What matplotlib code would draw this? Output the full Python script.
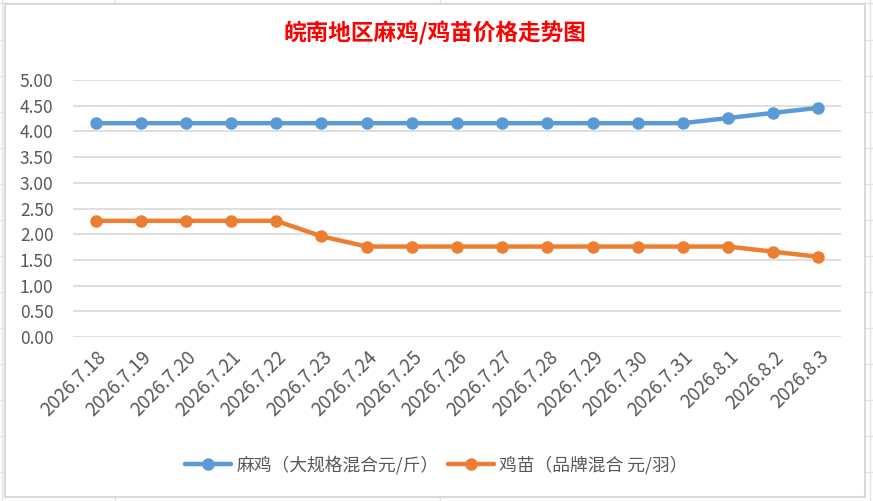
import matplotlib.pyplot as plt
from matplotlib.patches import Rectangle
from matplotlib.lines import Line2D

plt.rcParams['font.family'] = ['Noto Sans CJK SC', 'DejaVu Sans']

# data
dates = ['2026.7.18', '2026.7.19', '2026.7.20', '2026.7.21', '2026.7.22', '2026.7.23',
         '2026.7.24', '2026.7.25', '2026.7.26', '2026.7.27', '2026.7.28', '2026.7.29',
         '2026.7.30', '2026.7.31', '2026.8.1', '2026.8.2', '2026.8.3']
maji = [4.16, 4.16, 4.16, 4.16, 4.16, 4.16, 4.16, 4.16, 4.16, 4.16, 4.16, 4.16,
        4.16, 4.16, 4.26, 4.36, 4.46]
jimiao = [2.26, 2.26, 2.26, 2.26, 2.26, 1.96, 1.76, 1.76, 1.76, 1.76, 1.76, 1.76,
          1.76, 1.76, 1.76, 1.66, 1.56]
series_names = ['麻鸡（大规格混合元/斤）', '鸡苗（品牌混合 元/羽）']
title = '皖南地区麻鸡/鸡苗价格走势图'

blue = '#5B9BD5'
orange = '#ED7D31'
txt = '#595959'

fig = plt.figure(figsize=(8.73, 5.01), dpi=100)
W, H = 873, 501

# spreadsheet cells behind the chart
for y in [3, 40, 76, 112, 148, 184, 220, 256, 292, 328, 364, 400, 436, 472]:
    fig.add_artist(Line2D([0, 1], [1 - y / H, 1 - y / H], color='#E3E3E3', lw=1, zorder=-3))
for x in [2, 115, 440, 870]:
    fig.add_artist(Line2D([x / W, x / W], [0, 1], color='#E3E3E3', lw=1, zorder=-3))
fig.add_artist(Rectangle((5 / W, 4 / H), 860 / W, 493 / H, facecolor='white',
                         edgecolor='#D9D9D9', lw=1.5, transform=fig.transFigure, zorder=-2))

ax = fig.add_axes([73 / W, 164 / H, 768 / W, 257 / H])
ax.set_facecolor('none')
x = range(len(dates))
ax.plot(x, maji, color=blue, lw=3.2, marker='o', ms=8, label=series_names[0],
        solid_capstyle='round')
ax.plot(x, jimiao, color=orange, lw=3.2, marker='o', ms=8, label=series_names[1],
        solid_capstyle='round')

ax.set_xlim(-0.5, len(dates) - 0.5)
ax.set_ylim(0, 5)
ax.set_yticks([i * 0.5 for i in range(11)])
ax.set_yticklabels(['%.2f' % (i * 0.5) for i in range(11)])
ax.set_xticks(list(x))
ax.set_xticklabels(dates, rotation=45, ha='right', rotation_mode='anchor')
ax.grid(axis='y', color='#D9D9D9', lw=1.2)
ax.set_axisbelow(True)
for s in ax.spines.values():
    s.set_visible(False)
ax.tick_params(length=0, colors=txt)
ax.tick_params(axis='y', pad=14, labelsize=12.5)
ax.tick_params(axis='x', pad=7, labelsize=13.5)

fig.text(435 / W, 1 - 33 / H, title, color='red', fontsize=16.3, fontweight='bold',
         ha='center', va='center')

leg = fig.legend(loc='center', bbox_to_anchor=(0.5, 1 - 465 / H), ncol=2, frameon=False,
                 fontsize=12.8, handlelength=2.6, columnspacing=0.5, handletextpad=0.3)
for t in leg.get_texts():
    t.set_color(txt)

fig.savefig('out.png', dpi=100)
